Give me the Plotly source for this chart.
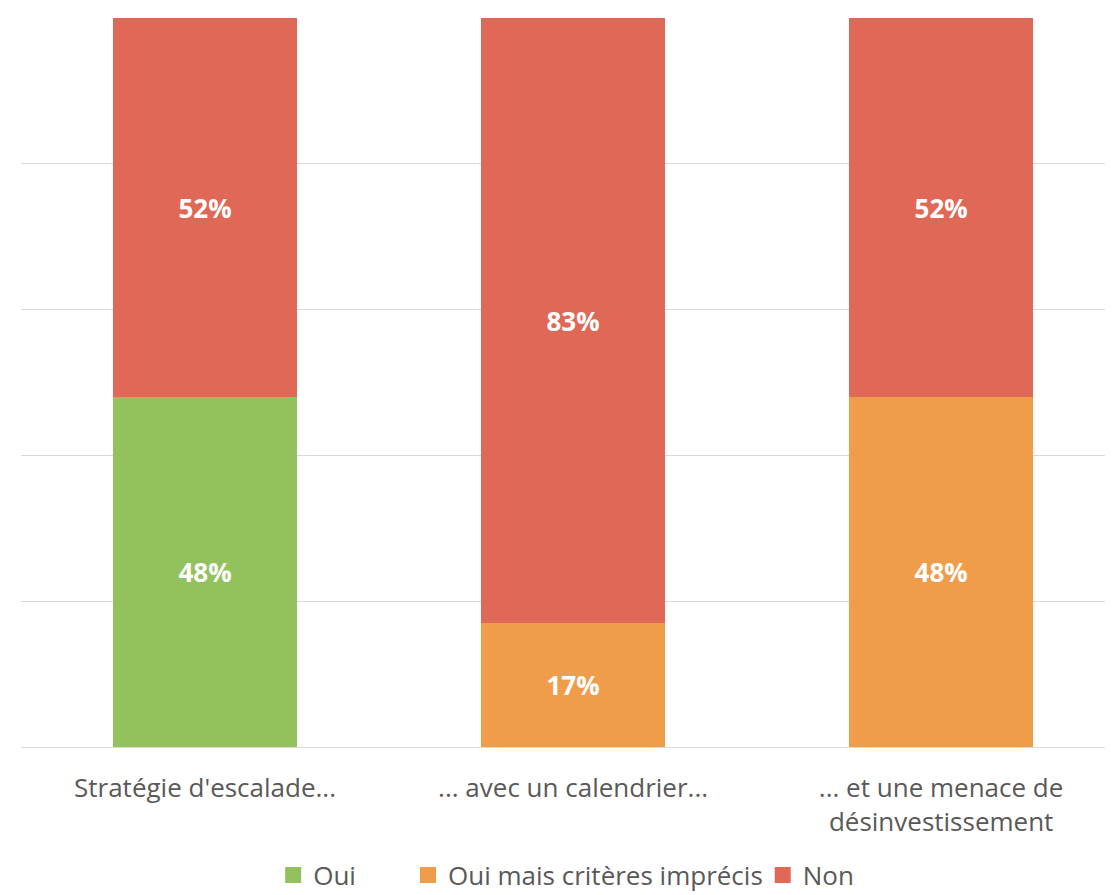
import plotly.graph_objects as go

categories = ["Stratégie d'escalade...", "... avec un calendrier...", "... et une menace de<br>désinvestissement"]
oui = [48, 0, 0]
oui_imprecis = [0, 17, 48]
non = [52, 83, 52]

series = [
    ("Oui", oui, "#93C15E", "legend", 0.240),
    ("Oui mais critères imprécis", oui_imprecis, "#EF9C4B", "legend2", 0.3620),
    ("Non", non, "#E06856", "legend3", 0.6830),
]

fig = go.Figure()
for name, vals, color, lg, lx in series:
    fig.add_trace(go.Bar(
        name=name,
        x=categories,
        y=vals,
        marker=dict(color=color, line=dict(width=0)),
        width=0.5,
        text=[f"{v}%" if v else "" for v in vals],
        textposition="inside",
        insidetextanchor="middle",
        textangle=0,
        textfont=dict(family="Open Sans", size=26, color="white", weight="bold"),
        hoverinfo="skip",
        showlegend=False,
    ))
    # legend entry with a larger square symbol
    fig.add_trace(go.Scatter(
        name=name,
        x=[None],
        y=[None],
        mode="markers",
        marker=dict(symbol="square", size=16, color=color),
        legend=lg,
        showlegend=True,
        hoverinfo="skip",
    ))

legend_common = dict(
    orientation="h",
    xref="container",
    yref="container",
    xanchor="left",
    yanchor="middle",
    y=0.0225,
    font=dict(family="Open Sans", size=26, color="#595959"),
    bgcolor="rgba(0,0,0,0)",
)

fig.update_layout(
    barmode="stack",
    width=1105,
    height=887,
    margin=dict(l=13, r=0, t=10, b=148, autoexpand=False),
    paper_bgcolor="white",
    plot_bgcolor="white",
    font=dict(family="Open Sans", size=26, color="#595959"),
    showlegend=True,
    legend=dict(legend_common, x=series[0][4]),
    legend2=dict(legend_common, x=series[1][4]),
    legend3=dict(legend_common, x=series[2][4]),
    xaxis=dict(
        range=[-0.5, 2.467],
        showgrid=False,
        showline=True,
        linecolor="#d9d9d9",
        linewidth=1,
        ticks="",
        ticklabelstandoff=18,
        tickfont=dict(family="Open Sans", size=26, color="#595959"),
    ),
    yaxis=dict(
        range=[0, 100],
        dtick=20,
        showticklabels=False,
        showgrid=True,
        gridcolor="#d9d9d9",
        gridwidth=1,
        zeroline=False,
    ),
    uniformtext=dict(minsize=10, mode="show"),
)

fig.write_html("out.html")
